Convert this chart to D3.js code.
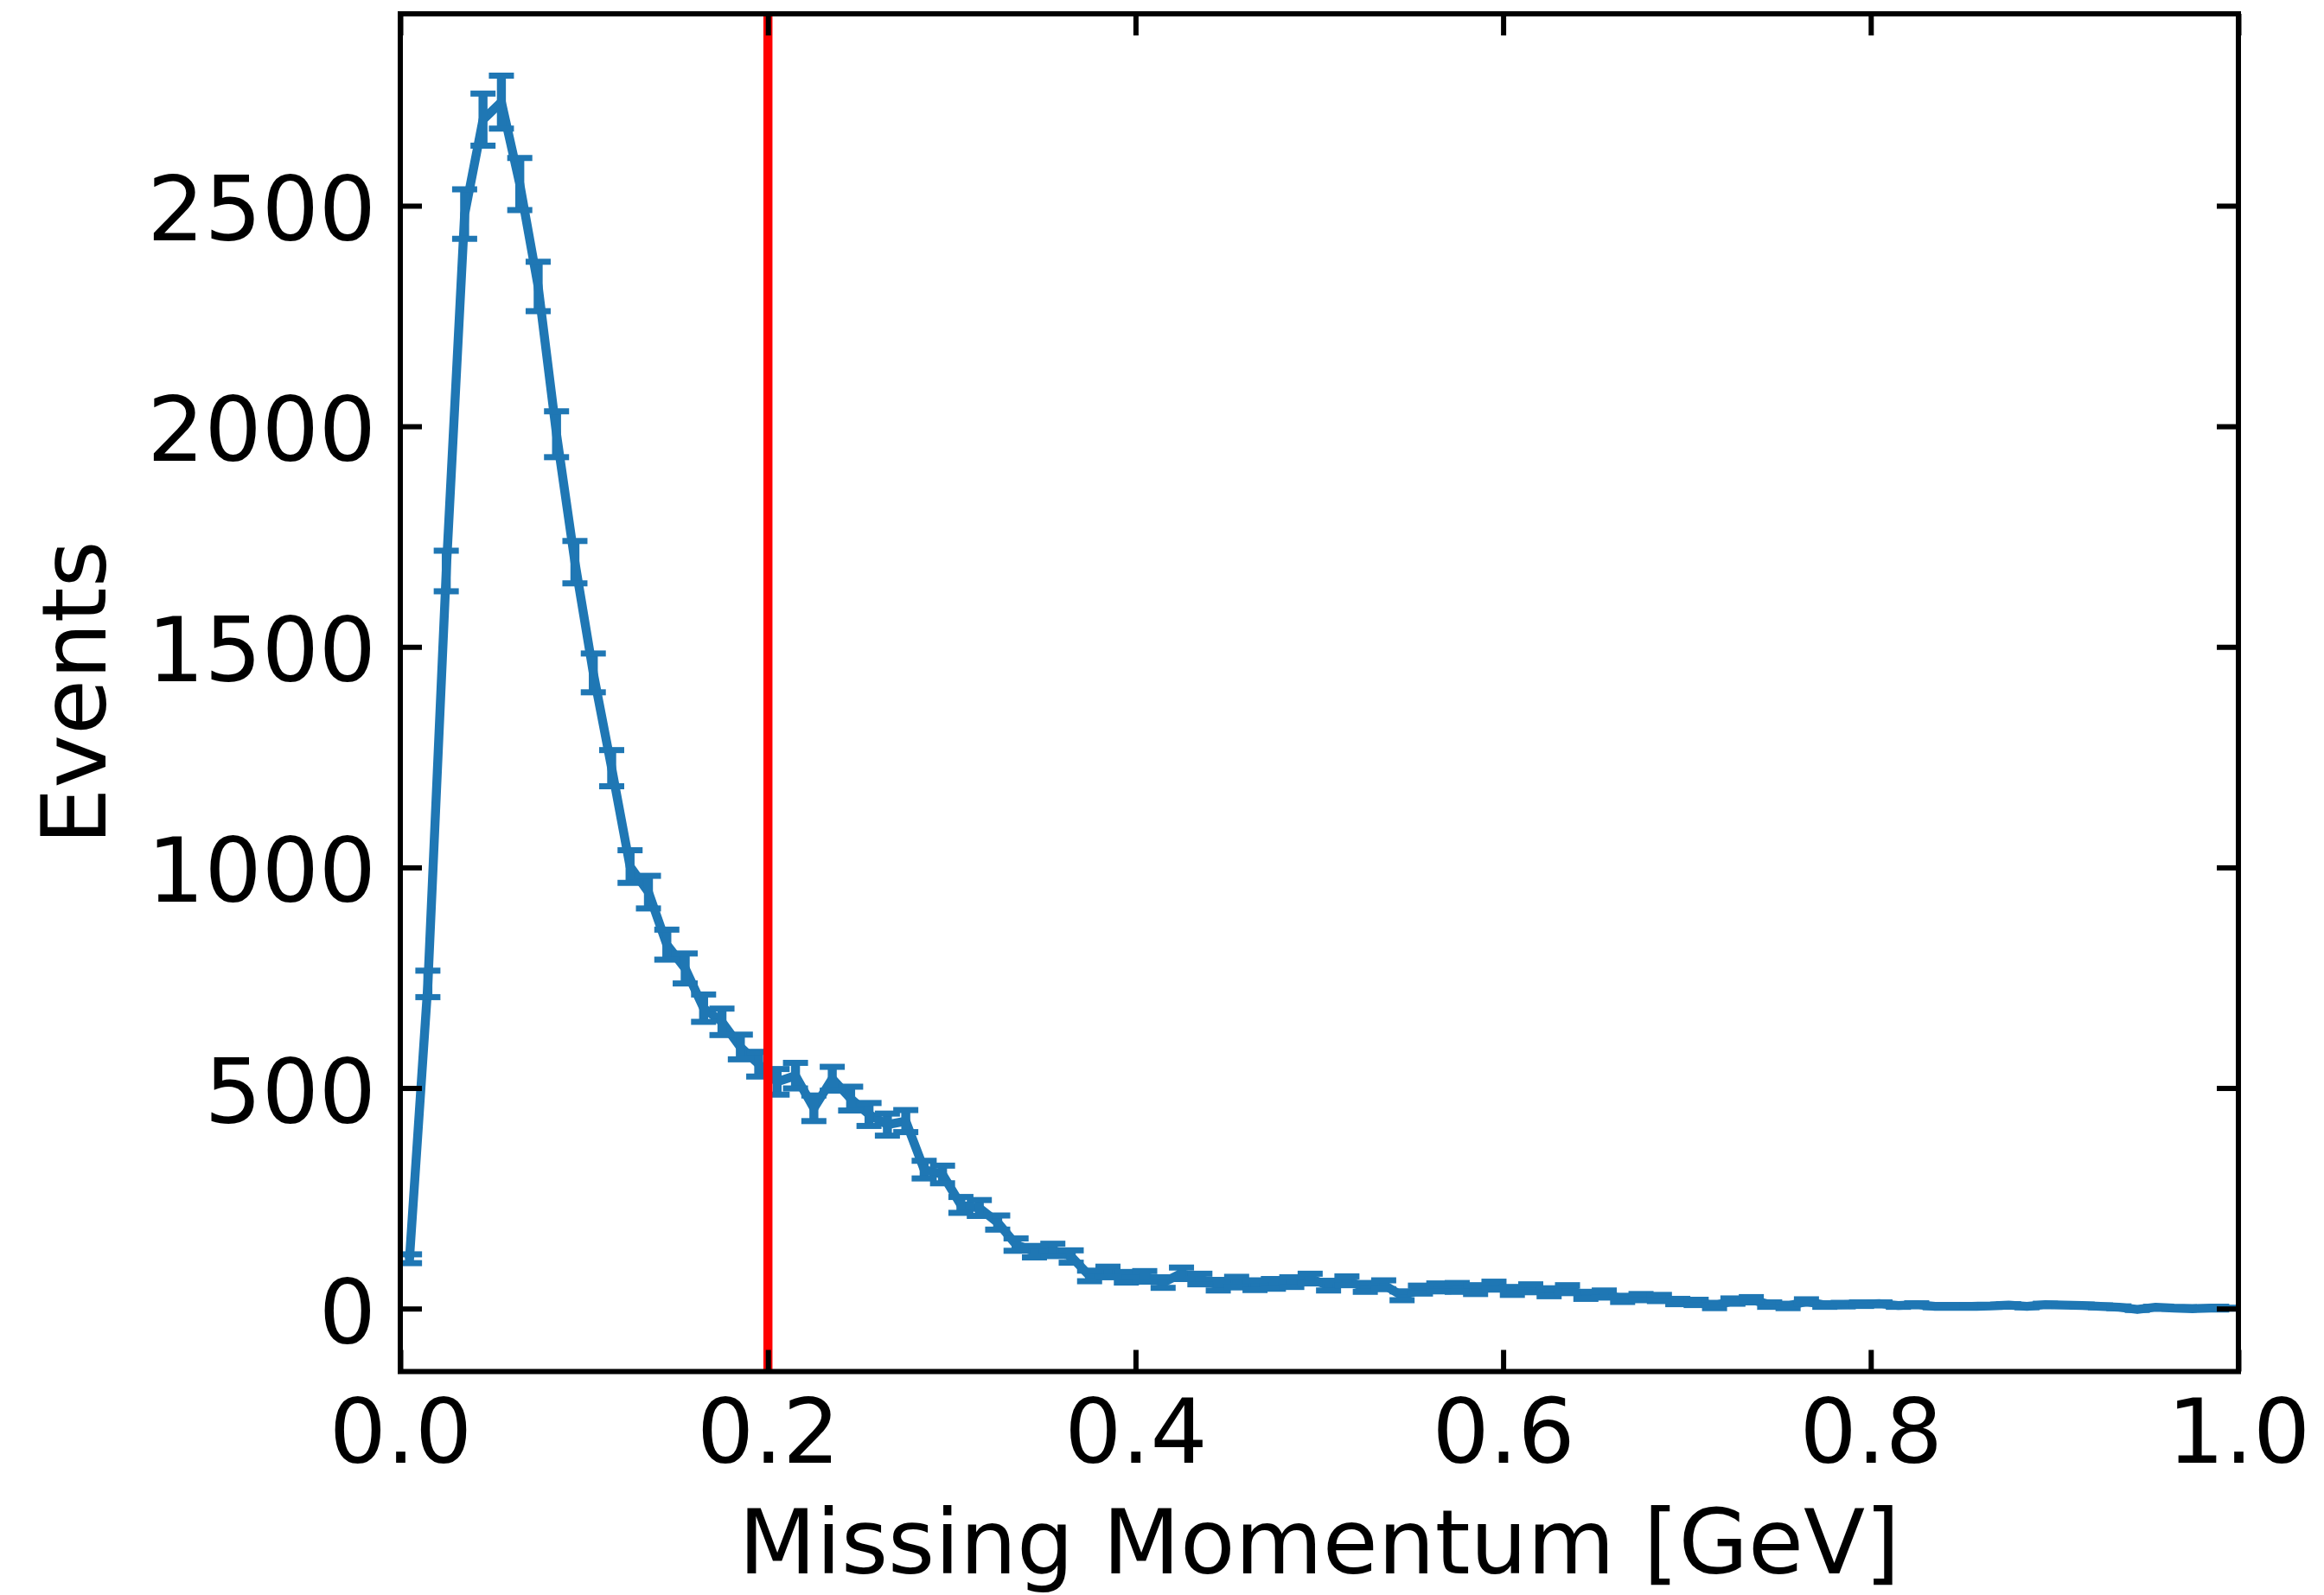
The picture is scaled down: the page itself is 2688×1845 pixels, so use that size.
<!DOCTYPE html>
<html>
<head>
<meta charset="utf-8">
<script src="https://cdn.jsdelivr.net/npm/d3@7"></script>
<style>
  html, body { margin: 0; padding: 0; background: #fff; }
  svg { display: block; }
  text { font-family: "DejaVu Sans", sans-serif; fill: #000; }
</style>
</head>
<body>
<svg id="chart" width="2688" height="1845"></svg>
<script>
// ---- data ----
const binCenters = [
  0.005,0.015,0.025,0.035,0.045,0.055,0.065,0.075,0.085,0.095,
  0.105,0.115,0.125,0.135,0.145,0.155,0.165,0.175,0.185,0.195,
  0.205,0.215,0.225,0.235,0.245,0.255,0.265,0.275,0.285,0.295,
  0.305,0.315,0.325,0.335,0.345,0.355,0.365,0.375,0.385,0.395,
  0.405,0.415,0.425,0.435,0.445,0.455,0.465,0.475,0.485,0.495,
  0.505,0.515,0.525,0.535,0.545,0.555,0.565,0.575,0.585,0.595,
  0.605,0.615,0.625,0.635,0.645,0.655,0.665,0.675,0.685,0.695,
  0.705,0.715,0.725,0.735,0.745,0.755,0.765,0.775,0.785,0.795,
  0.805,0.815,0.825,0.835,0.845,0.855,0.865,0.875,0.885,0.895,
  0.905,0.915,0.925,0.935,0.945,0.955,0.965,0.975,0.985,0.995
];
const events = [
  113, 736, 1672, 2481, 2695, 2735, 2549, 2317, 1982, 1692,
  1441, 1225, 1002, 944, 825, 771, 681, 650, 593, 554,
  514, 528, 454, 521, 476, 440, 417, 425, 315, 304,
  235, 228, 195, 145, 129, 133, 118, 74, 83, 71,
  73, 59, 80, 67, 53, 60, 53, 56, 60, 68,
  52, 63, 48, 54, 29, 43, 48, 48, 43, 52,
  40, 46, 37, 44, 30, 33, 22, 26, 24, 16,
  14, 7, 17, 20, 9, 6, 16, 8, 9, 10,
  11, 7, 9, 5, 5, 5, 6, 8, 5, 9,
  8, 7, 5, 3, -2, 3, 1, 0, 1, 1
];
const errors = [
  10, 30, 46, 56, 59, 60, 59, 56, 52, 48,
  44, 41, 37, 37, 34, 34, 31, 30, 28, 28,
  29, 29, 29, 27, 27, 26, 25, 25, 20, 20,
  18, 18, 16, 14, 13, 14, 14, 12, 12, 12,
  12, 12, 13, 12, 12, 12, 11, 11, 11, 11,
  11, 10, 10, 10, 10, 9, 9, 10, 10, 9,
  9, 9, 9, 9, 8, 8, 7, 7, 7, 6,
  6, 6, 6, 6, 5, 5, 5, 4, 4, 4,
  3, 3, 3, 2, 2, 2, 2, 2, 2, 2,
  2, 2, 2, 2, 1, 1, 1, 1, 1, 1
];
const xTicks = [0.0, 0.2, 0.4, 0.6, 0.8, 1.0];
const yTicks = [0, 500, 1000, 1500, 2000, 2500];
const cutValue = 0.2;
const xLabel = "Missing Momentum [GeV]";
const yLabel = "Events";

// ---- layout ----
const L = 463, R = 2589, T = 16, B = 1586.5;
const FS = 104;
const blue = "#1f77b4";

const svg = d3.select("#chart");
const x = d3.scaleLinear().domain([0, 1]).range([L, R]);
const y = d3.scaleLinear().domain([-142.7, 2935]).range([B, T]);

const pts = binCenters.map((c, i) => ({ x: c, v: events[i], e: errors[i] }));

svg.append("defs").append("clipPath").attr("id", "plotclip")
  .append("rect").attr("x", L).attr("y", T).attr("width", R - L).attr("height", B - T);

const plot = svg.append("g").attr("clip-path", "url(#plotclip)");

// connecting line
plot.append("path")
  .datum(pts)
  .attr("fill", "none")
  .attr("stroke", blue)
  .attr("stroke-width", 10.4)
  .attr("stroke-linejoin", "round")
  .attr("d", d3.line().x(d => x(d.x)).y(d => y(d.v)));

// error bars
const eb = plot.append("g").attr("stroke", blue);
eb.selectAll("line.bar").data(pts).join("line")
  .attr("class", "bar")
  .attr("x1", d => x(d.x)).attr("x2", d => x(d.x))
  .attr("y1", d => y(d.v - d.e)).attr("y2", d => y(d.v + d.e))
  .attr("stroke-width", 10.4);
const capHalf = 14.5;
eb.selectAll("line.capt").data(pts).join("line")
  .attr("class", "capt")
  .attr("x1", d => x(d.x) - capHalf).attr("x2", d => x(d.x) + capHalf)
  .attr("y1", d => y(d.v + d.e)).attr("y2", d => y(d.v + d.e))
  .attr("stroke-width", 7);
eb.selectAll("line.capb").data(pts).join("line")
  .attr("class", "capb")
  .attr("x1", d => x(d.x) - capHalf).attr("x2", d => x(d.x) + capHalf)
  .attr("y1", d => y(d.v - d.e)).attr("y2", d => y(d.v - d.e))
  .attr("stroke-width", 7);

// red cut line
plot.append("line")
  .attr("x1", x(cutValue)).attr("x2", x(cutValue))
  .attr("y1", T).attr("y2", B)
  .attr("stroke", "#ff0000").attr("stroke-width", 10.5);

// ---- axes ----
const tickLen = 25, tickW = 6;
function styleAxis(g, showLabels) {
  g.select(".domain").remove();
  g.selectAll(".tick line").attr("stroke", "#000").attr("stroke-width", tickW);
  g.selectAll(".tick text")
    .style("font-family", "'DejaVu Sans', sans-serif")
    .style("font-size", FS + "px")
    .attr("fill", "#000");
  if (!showLabels) g.selectAll(".tick text").remove();
}

const gx = svg.append("g").attr("transform", `translate(0,${B})`)
  .call(d3.axisBottom(x).tickValues(xTicks).tickFormat(d3.format(".1f"))
    .tickSizeInner(-tickLen).tickSizeOuter(0).tickPadding(32));
styleAxis(gx, true);
gx.selectAll(".tick text").attr("dy", "0.71em");

const gxt = svg.append("g").attr("transform", `translate(0,${T})`)
  .call(d3.axisTop(x).tickValues(xTicks).tickSizeInner(-tickLen).tickSizeOuter(0));
styleAxis(gxt, false);

const gy = svg.append("g").attr("transform", `translate(${L},0)`)
  .call(d3.axisLeft(y).tickValues(yTicks).tickFormat(d3.format("d"))
    .tickSizeInner(-tickLen).tickSizeOuter(0).tickPadding(28));
styleAxis(gy, true);
gy.selectAll(".tick text").attr("dy", "0.38em");

const gyr = svg.append("g").attr("transform", `translate(${R},0)`)
  .call(d3.axisRight(y).tickValues(yTicks).tickSizeInner(-tickLen).tickSizeOuter(0));
styleAxis(gyr, false);

// frame (spines)
svg.append("rect")
  .attr("x", L).attr("y", T).attr("width", R - L).attr("height", B - T)
  .attr("fill", "none").attr("stroke", "#000").attr("stroke-width", 6);

// axis labels
svg.append("text")
  .attr("x", (L + R) / 2).attr("y", 1820)
  .attr("text-anchor", "middle")
  .style("font-size", FS + "px")
  .text(xLabel);

svg.append("text")
  .attr("transform", `translate(122,${(T + B) / 2}) rotate(-90)`)
  .attr("text-anchor", "middle")
  .style("font-size", FS + "px")
  .text(yLabel);
</script>
</body>
</html>
